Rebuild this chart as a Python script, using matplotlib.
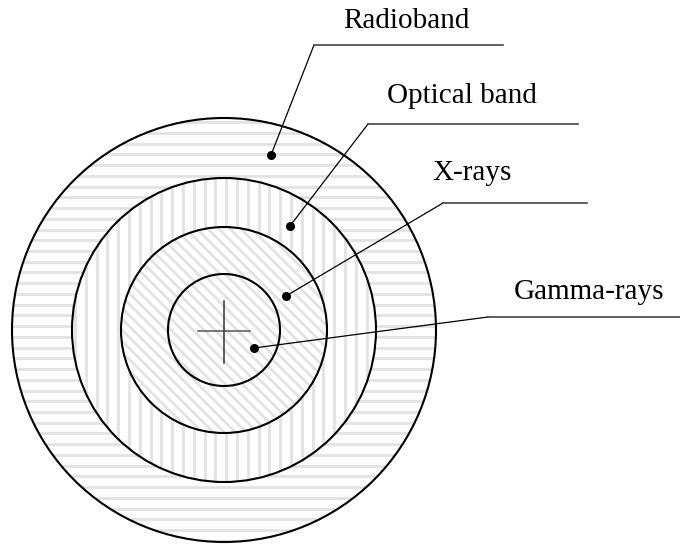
import numpy as np
import matplotlib.pyplot as plt
from matplotlib.patches import Circle

# ---- data ----
band_labels = ["Radioband", "Optical band", "X-rays", "Gamma-rays"]
band_radii = [212, 152, 103, 56]          # outer radius of each zone (px)
hatch_kind = ["h", "v", "d", "d"]          # hatch direction for each zone

# ---- layout (pixel coords, y down) ----
cx, cy = 224, 330
dot_xy = [(271, 155), (290, 226), (286, 296), (254, 348)]
line_left = [(314, 45), (368, 124), (443, 203), (488, 317)]
line_right = [503, 578, 587, 680]
text_xy = [(406, 28), (462, 103), (472, 180), (589, 299)]

HATCH_COLOR = "#e2e2e2"


def hatch_lines(ax, kind, r, clip, z):
    if kind == "h":
        ys = np.arange(133 - 10.73 * 40, 550, 10.73)
        ys = ys[(ys > cy - r) & (ys < cy + r)]
        for y in ys:
            ln, = ax.plot([cx - r, cx + r], [y, y], color=HATCH_COLOR, lw=2.0, zorder=z)
            ln.set_clip_path(clip)
    elif kind == "v":
        xs = np.arange(183 - 10.8 * 40, 680, 10.8)
        xs = xs[(xs > cx - r) & (xs < cx + r)]
        for x in xs:
            ln, = ax.plot([x, x], [cy - r, cy + r], color=HATCH_COLOR, lw=2.0, zorder=z)
            ln.set_clip_path(clip)
    else:
        step = 11.0
        for c in np.arange(-2 * r, 2 * r, step):
            # line  y - cy = (x - cx) + c   (goes down-right on screen)
            ln, = ax.plot([cx - r, cx + r], [cy - r + c, cy + r + c],
                          color=HATCH_COLOR, lw=2.0, zorder=z)
            ln.set_clip_path(clip)


fig = plt.figure(figsize=(6.8, 5.5), dpi=100)
ax = fig.add_axes([0, 0, 1, 1])
ax.set_xlim(0, 680)
ax.set_ylim(550, 0)
ax.axis("off")

# zones, outer to inner, each one covers the previous
for i, r in enumerate(band_radii):
    z = 1 + i * 2
    fill = Circle((cx, cy), r, facecolor="white", edgecolor="none", zorder=z)
    ax.add_patch(fill)
    hatch_lines(ax, hatch_kind[i], r, fill, z + 0.5)

for r in band_radii:
    ax.add_patch(Circle((cx, cy), r, facecolor="none", edgecolor="black", lw=1.5, zorder=20))

# cross at the centre
ax.plot([198, 250], [331, 331], color="#555555", lw=1.1, zorder=21)
ax.plot([224, 224], [301, 363], color="#333333", lw=1.1, zorder=21)

# labels with leader lines
for lab, (dx, dy), (lx, ly), rx, (tx, ty) in zip(band_labels, dot_xy, line_left, line_right, text_xy):
    ax.plot([dx, lx], [dy, ly], color="black", lw=0.9, zorder=22)
    ax.plot([lx, rx], [ly, ly], color="#444444", lw=1.2, zorder=22)
    ax.plot(dx, dy, "o", color="black", markersize=5.5, zorder=23)
    ax.text(tx, ty, lab, ha="center", va="baseline", fontsize=21,
            family="Liberation Serif", zorder=23)

fig.savefig("out.png", dpi=100)
